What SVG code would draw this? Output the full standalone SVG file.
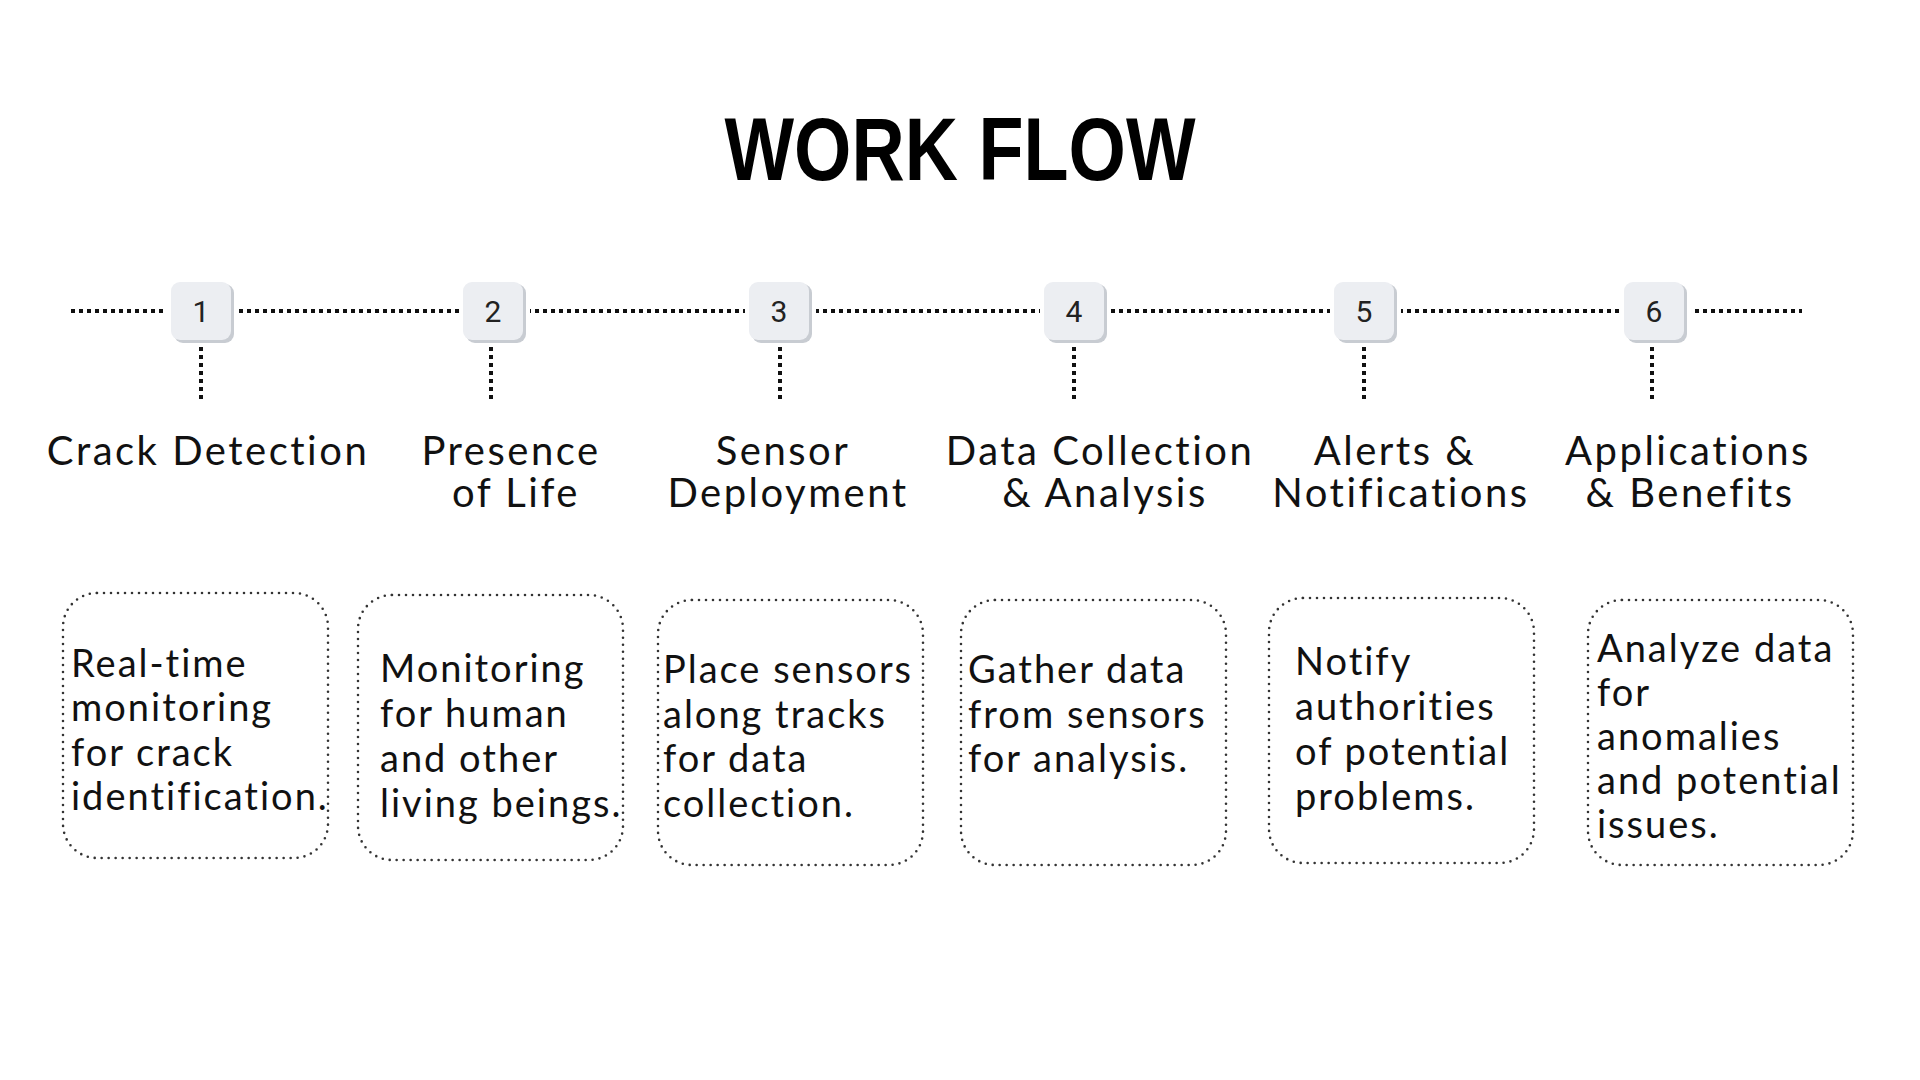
<svg xmlns="http://www.w3.org/2000/svg" width="1920" height="1080" viewBox="0 0 1920 1080">
<style>
.title{font-family:"Liberation Sans",Arial,sans-serif;font-weight:bold;font-size:89px;fill:#000}
.hline{stroke:#111;stroke-width:4;stroke-dasharray:4 4;fill:none}
.vline{stroke:#111;stroke-width:4;stroke-dasharray:4 4;fill:none}
.gap{fill:#fff}
.num{fill:#eceef2}
.numsh{fill:#c8ccd2}
.numt{font-family:Roboto,"Liberation Sans",sans-serif;font-size:30px;fill:#222;text-anchor:middle}
.head{font-family:Lato,"Liberation Sans",sans-serif;font-size:40px;fill:#111;text-anchor:middle;letter-spacing:2.5px}
.card{fill:none;stroke:#333;stroke-width:2.6;stroke-dasharray:0 7;stroke-linecap:round}
.body{font-family:Lato,"Liberation Sans",sans-serif;font-size:38px;fill:#111;letter-spacing:2px}
</style>
<rect width="1920" height="1080" fill="#fff"/>
<text class="title" x="960" y="180" text-anchor="middle" textLength="471" lengthAdjust="spacingAndGlyphs">WORK FLOW</text>
<g id="connectors">
<line class="hline" x1="71" y1="311" x2="1802" y2="311"/>
<line class="vline" x1="201" y1="347" x2="201" y2="400"/>
<line class="vline" x1="491" y1="347" x2="491" y2="400"/>
<line class="vline" x1="780" y1="347" x2="780" y2="400"/>
<line class="vline" x1="1074" y1="347" x2="1074" y2="400"/>
<line class="vline" x1="1364" y1="347" x2="1364" y2="400"/>
<line class="vline" x1="1652" y1="347" x2="1652" y2="400"/>
</g>
<g id="step1">
<rect class="gap" x="167" y="278" width="71" height="68"/>
<rect class="numsh" x="174" y="284" width="60" height="59" rx="9"/>
<rect class="num" x="171" y="282" width="60" height="58" rx="9"/>
<text class="numt" x="201" y="322">1</text>
<text class="head" x="208" y="465">Crack Detection</text>
<rect class="card" x="63" y="593" width="265" height="265" rx="34"/>
<text class="body" x="71" y="677">Real-time</text>
<text class="body" x="71" y="721">monitoring</text>
<text class="body" x="71" y="766">for crack</text>
<text class="body" x="71" y="810">identification.</text>
</g>
<g id="step2">
<rect class="gap" x="459" y="278" width="71" height="68"/>
<rect class="numsh" x="466" y="284" width="60" height="59" rx="9"/>
<rect class="num" x="463" y="282" width="60" height="58" rx="9"/>
<text class="numt" x="493" y="322">2</text>
<text class="head" x="511" y="465">Presence</text>
<text class="head" x="516" y="507">of Life</text>
<rect class="card" x="358" y="595" width="265" height="265" rx="34"/>
<text class="body" x="380" y="682">Monitoring</text>
<text class="body" x="380" y="727">for human</text>
<text class="body" x="380" y="772">and other</text>
<text class="body" x="380" y="817">living beings.</text>
</g>
<g id="step3">
<rect class="gap" x="745" y="278" width="71" height="68"/>
<rect class="numsh" x="752" y="284" width="60" height="59" rx="9"/>
<rect class="num" x="749" y="282" width="60" height="58" rx="9"/>
<text class="numt" x="779" y="322">3</text>
<text class="head" x="783" y="465">Sensor</text>
<text class="head" x="788" y="507">Deployment</text>
<rect class="card" x="658" y="600" width="265" height="265" rx="34"/>
<text class="body" x="663" y="683">Place sensors</text>
<text class="body" x="663" y="728">along tracks</text>
<text class="body" x="663" y="772">for data</text>
<text class="body" x="663" y="817">collection.</text>
</g>
<g id="step4">
<rect class="gap" x="1040" y="278" width="71" height="68"/>
<rect class="numsh" x="1047" y="284" width="60" height="59" rx="9"/>
<rect class="num" x="1044" y="282" width="60" height="58" rx="9"/>
<text class="numt" x="1074" y="322">4</text>
<text class="head" x="1100" y="465">Data Collection</text>
<text class="head" x="1105" y="507">&amp; Analysis</text>
<rect class="card" x="961" y="600" width="265" height="265" rx="34"/>
<text class="body" x="968" y="683">Gather data</text>
<text class="body" x="968" y="728">from sensors</text>
<text class="body" x="968" y="772">for analysis.</text>
</g>
<g id="step5">
<rect class="gap" x="1330" y="278" width="71" height="68"/>
<rect class="numsh" x="1337" y="284" width="60" height="59" rx="9"/>
<rect class="num" x="1334" y="282" width="60" height="58" rx="9"/>
<text class="numt" x="1364" y="322">5</text>
<text class="head" x="1395" y="465">Alerts &amp;</text>
<text class="head" x="1401" y="507">Notifications</text>
<rect class="card" x="1269" y="598" width="265" height="265" rx="34"/>
<text class="body" x="1295" y="675">Notify</text>
<text class="body" x="1295" y="720">authorities</text>
<text class="body" x="1295" y="765">of potential</text>
<text class="body" x="1295" y="810">problems.</text>
</g>
<g id="step6">
<rect class="gap" x="1620" y="278" width="71" height="68"/>
<rect class="numsh" x="1627" y="284" width="60" height="59" rx="9"/>
<rect class="num" x="1624" y="282" width="60" height="58" rx="9"/>
<text class="numt" x="1654" y="322">6</text>
<text class="head" x="1688" y="465">Applications</text>
<text class="head" x="1690" y="507">&amp; Benefits</text>
<rect class="card" x="1588" y="600" width="265" height="265" rx="34"/>
<text class="body" x="1597" y="662">Analyze data</text>
<text class="body" x="1597" y="706">for</text>
<text class="body" x="1597" y="750">anomalies</text>
<text class="body" x="1597" y="794">and potential</text>
<text class="body" x="1597" y="838">issues.</text>
</g>
</svg>
